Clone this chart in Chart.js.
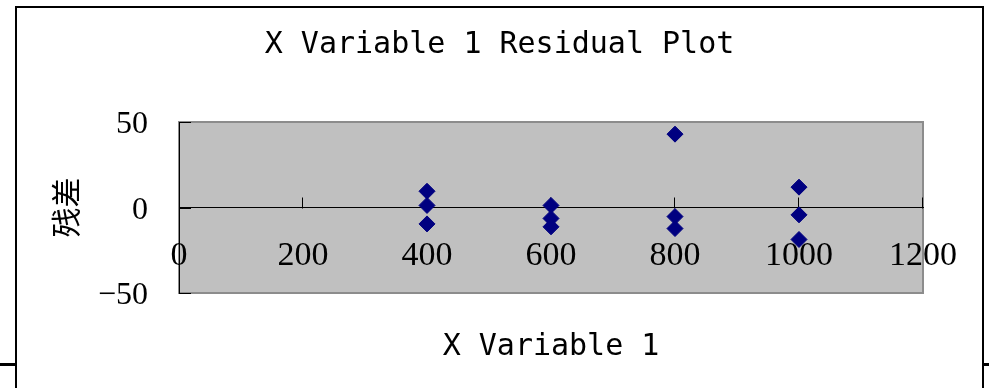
<!DOCTYPE html>
<html>
<head>
<meta charset="utf-8">
<script src="https://cdn.jsdelivr.net/npm/chart.js@4.4.0/dist/chart.umd.min.js"></script>
<style>
  html, body { margin: 0; padding: 0; background: #fff; }
  #wrap { position: relative; width: 989px; height: 388px; overflow: hidden; }
  #frame { position: absolute; left: 15px; top: 6px; width: 965px; height: 420px; border: 2px solid #000; border-bottom: none; }
  .stub { position: absolute; top: 363px; height: 3px; background: #000; }
  canvas { position: absolute; left: 0; top: 0; }
</style>
</head>
<body>
<div id="wrap">
  <div id="frame"></div>
  <div class="stub" style="left:0;width:15px"></div>
  <div class="stub" style="left:984px;width:5px"></div>
  <canvas id="residualChart" width="989" height="388"></canvas>
</div>
<script>
// values
const xValues = [400, 400, 400, 600, 600, 600, 800, 800, 800, 1000, 1000, 1000];
const residuals = [9.5, 1.2, -9.6, 1.2, -6.4, -11.3, 42.9, -5.3, -12.3, 11.9, -4.3, -18.7];
const xTicks = [0, 200, 400, 600, 800, 1000, 1200];
const yTicks = [-50, 0, 50];
const chartTitle = 'X Variable 1 Residual Plot';
const xTitle = 'X Variable 1';
const yTitle = '残差';

// gray plot area with gray border (Excel style)
const plotArea = {
  id: 'plotArea',
  beforeDraw(chart) {
    const {ctx, chartArea: a} = chart;
    ctx.save();
    ctx.fillStyle = '#c0c0c0';
    ctx.fillRect(a.left, a.top, a.right - a.left, a.bottom - a.top);
    ctx.strokeStyle = '#8c8c8c';
    ctx.lineWidth = 2;
    ctx.strokeRect(a.left, a.top, a.right - a.left, a.bottom - a.top);
    ctx.restore();
  }
};

// tick marks pointing into the plot
const tickMarks = {
  id: 'tickMarks',
  beforeDatasetsDraw(chart) {
    const {ctx, scales: {x, y}} = chart;
    const y0 = Math.round(y.getPixelForValue(0)) + 0.5;
    ctx.save();
    ctx.strokeStyle = '#000';
    ctx.lineWidth = 1;
    ctx.beginPath();
    xTicks.forEach(v => {
      if (v === 0) return;
      const px = Math.round(x.getPixelForValue(v)) - 0.5;
      ctx.moveTo(px, y0);
      ctx.lineTo(px, y0 - 11);
    });
    yTicks.forEach(v => {
      const py = Math.round(y.getPixelForValue(v)) + 0.5;
      ctx.moveTo(x.left, py);
      ctx.lineTo(x.left + 12, py);
    });
    ctx.stroke();
    ctx.restore();
  }
};

new Chart(document.getElementById('residualChart'), {
  type: 'scatter',
  data: {
    datasets: [{
      data: xValues.map((v, i) => ({x: v, y: residuals[i]})),
      pointStyle: 'rectRot',
      pointRadius: 8,
      backgroundColor: '#000080',
      borderColor: '#000080',
      borderWidth: 1
    }]
  },
  options: {
    responsive: false,
    animation: false,
    events: [],
    layout: {padding: {left: 16, right: 6, top: 7, bottom: 95}},
    plugins: {
      legend: {display: false},
      tooltip: {enabled: false},
      title: {
        display: true,
        text: chartTitle,
        color: '#000',
        font: {family: 'DejaVu Sans Mono', size: 30, weight: 'normal', lineHeight: 1.2},
        padding: {top: 20, bottom: 59}
      }
    },
    scales: {
      x: {
        type: 'linear',
        position: {y: 0},
        min: 0,
        max: 1200,
        afterBuildTicks(s) { s.ticks = xTicks.map(v => ({value: v})); },
        afterFit(s) { s.height = 158; },
        ticks: {
          color: '#000',
          font: {family: 'Liberation Serif', size: 34, lineHeight: 1},
          padding: 32,
          maxRotation: 0,
          autoSkip: false,
          callback: v => String(v)
        },
        grid: {display: false, drawTicks: false},
        border: {display: true, color: '#000', width: 1},
        title: {
          display: true,
          text: xTitle,
          color: '#000',
          font: {family: 'DejaVu Sans Mono', size: 30, lineHeight: 1.2},
          padding: {top: 0, bottom: 0}
        }
      },
      y: {
        type: 'linear',
        position: 'left',
        min: -50,
        max: 50,
        afterBuildTicks(s) { s.ticks = yTicks.map(v => ({value: v})); },
        afterFit(s) { s.width = 163; },
        ticks: {
          color: '#000',
          font: {family: 'Liberation Serif', size: 32, lineHeight: 1},
          padding: 31,
          labelOffset: 3,
          callback: v => String(v).replace('-', '\u2212')
        },
        grid: {display: false, drawTicks: false},
        border: {display: true, color: '#000', width: 1},
        title: {
          display: true,
          text: yTitle,
          color: '#000',
          font: {family: 'Noto Sans CJK SC', size: 30, lineHeight: 1.2},
          padding: {top: 32, bottom: 0}
        }
      },
      // spacer on the right so the plot ends where the original does
      yPad: {
        type: 'linear',
        position: 'right',
        display: true,
        grid: {display: false, drawTicks: false},
        border: {display: false},
        ticks: {display: false},
        afterFit(s) { s.width = 60; }
      }
    }
  },
  plugins: [plotArea, tickMarks]
});
</script>
</body>
</html>
